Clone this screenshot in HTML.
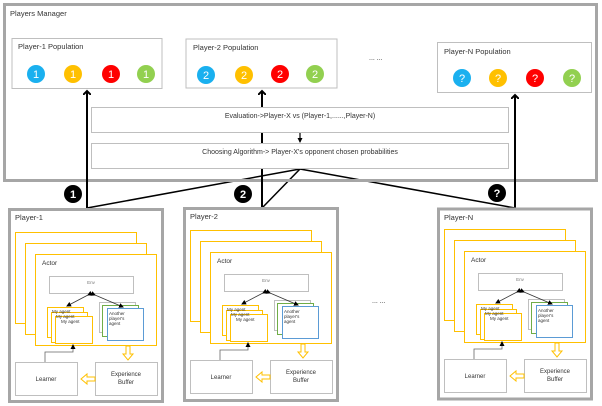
<!DOCTYPE html>
<html><head><meta charset="utf-8"><style>
html,body{margin:0;padding:0;background:#fff;width:602px;height:406px;overflow:hidden}
svg{display:block;font-family:"Liberation Sans","DejaVu Sans",sans-serif}
</style></head><body>
<svg width="602" height="406" viewBox="0 0 602 406" xmlns="http://www.w3.org/2000/svg">
<defs>
<marker id="ah" markerWidth="8" markerHeight="8" refX="4" refY="4" orient="auto" markerUnits="userSpaceOnUse">
<path d="M0,0 L4,4 L0,8" fill="none" stroke="#000" stroke-width="2"/></marker>
<marker id="sa" markerWidth="5" markerHeight="5" refX="4" refY="2.5" orient="auto" markerUnits="userSpaceOnUse">
<path d="M0,0 L5,2.5 L0,5z" fill="#000"/></marker>
</defs>
<rect x="4.5" y="4.5" width="592" height="176" fill="#fff"/>
<g stroke="#000" stroke-width="1.5" fill="none">
<line x1="300" y1="169" x2="87" y2="208"/>
<line x1="300" y1="169" x2="262" y2="208"/>
<line x1="300" y1="169" x2="515" y2="208"/>
</g>
<rect x="4.5" y="4.5" width="592" height="176" fill="none" stroke="#a6a6a6" stroke-width="3"/>
<text x="10" y="16" font-size="7.5" fill="#333">Players Manager</text>
<g font-size="7.5" fill="#333">
<rect x="12" y="38.5" width="150" height="50" fill="#fff" stroke="#bfbfbf"/>
<text x="18" y="49">Player-1 Population</text>
<rect x="186" y="39" width="151" height="49" fill="#fff" stroke="#bfbfbf"/>
<text x="193" y="50">Player-2 Population</text>
<rect x="437.5" y="42.5" width="154" height="50" fill="#fff" stroke="#bfbfbf"/>
<text x="444" y="54">Player-N Population</text>
<text x="369" y="60" font-size="7">... ...</text>
</g>
<g font-size="11" fill="#fff" text-anchor="middle">
<circle cx="36" cy="74" r="9" fill="#1ab0ef"/><text x="36" y="78">1</text>
<circle cx="73" cy="74" r="9" fill="#ffc000"/><text x="73" y="78">1</text>
<circle cx="111" cy="74" r="9" fill="#ff0000"/><text x="111" y="78">1</text>
<circle cx="146" cy="74" r="9" fill="#92d050"/><text x="146" y="78">1</text>
<circle cx="206" cy="75" r="9" fill="#1ab0ef"/><text x="206" y="79">2</text>
<circle cx="244" cy="75" r="9" fill="#ffc000"/><text x="244" y="79">2</text>
<circle cx="280" cy="74" r="9" fill="#ff0000"/><text x="280" y="78">2</text>
<circle cx="315" cy="74" r="9" fill="#92d050"/><text x="315" y="78">2</text>
<circle cx="462" cy="78" r="9" fill="#1ab0ef"/><text x="462" y="82">?</text>
<circle cx="498" cy="78" r="9" fill="#ffc000"/><text x="498" y="82">?</text>
<circle cx="535" cy="78" r="9" fill="#ff0000"/><text x="535" y="82">?</text>
<circle cx="572" cy="78" r="9" fill="#92d050"/><text x="572" y="82">?</text>
</g>
<g stroke="#000" stroke-width="2" fill="none">
<line x1="87" y1="208" x2="87" y2="91" marker-end="url(#ah)"/>
<line x1="262" y1="208" x2="262" y2="91" marker-end="url(#ah)"/>
<line x1="515" y1="208" x2="515" y2="95" marker-end="url(#ah)"/>
</g>
<rect x="91.5" y="107.5" width="417" height="25" fill="#fff" stroke="#bfbfbf"/>
<rect x="91.5" y="143.5" width="417" height="25" fill="#fff" stroke="#bfbfbf"/>
<g font-size="7" fill="#333" text-anchor="middle">
<text x="300" y="118">Evaluation-&gt;Player-X vs (Player-1,......,Player-N)</text>
<text x="300" y="154">Choosing Algorithm-&gt; Player-X's opponent chosen probabilities</text>
</g>
<line x1="300" y1="133" x2="300" y2="142" stroke="#000" stroke-width="1.2" marker-end="url(#sa)"/>
<g font-size="11" font-weight="bold" fill="#fff" text-anchor="middle">
<circle cx="73" cy="194" r="9" fill="#000"/><text x="73" y="198">1</text>
<circle cx="243" cy="194" r="9" fill="#000"/><text x="243" y="198">2</text>
<circle cx="497" cy="193" r="9" fill="#000"/><text x="497" y="197">?</text>
</g>
<text x="372" y="303" font-size="7" fill="#333">... ...</text>

<g>
<rect x="9.5" y="209.5" width="153" height="192" fill="none" stroke="#a6a6a6" stroke-width="3"/>
<rect x="15.5" y="232.5" width="121" height="91" fill="#fff" stroke="#ffc000"/>
<rect x="25.5" y="243.5" width="121" height="91" fill="#fff" stroke="#ffc000"/>
<rect x="35.5" y="254.5" width="121" height="91" fill="#fff" stroke="#ffc000"/>
<rect x="49.5" y="276.5" width="84" height="17" fill="#fff" stroke="#bfbfbf"/>
<rect x="47.5" y="307.5" width="36" height="30" fill="#fff" stroke="#ffc000"/>
<rect x="51.5" y="312.5" width="36" height="30" fill="#fff" stroke="#ffc000"/>
<rect x="55.5" y="316.5" width="37" height="27" fill="#fff" stroke="#ffc000"/>
<rect x="99.5" y="302.5" width="36" height="30" fill="#fff" stroke="#bfbfbf"/>
<rect x="102.5" y="305.5" width="36" height="31" fill="#fff" stroke="#70ad47"/>
<rect x="107.5" y="308.5" width="36" height="32" fill="#fff" stroke="#5b9bd5"/>
<line x1="88" y1="295" x2="67" y2="306" stroke="#333" stroke-width="0.8" marker-end="url(#sa)" marker-start="url(#sa)"/>
<line x1="95" y1="295" x2="123" y2="307" stroke="#333" stroke-width="0.8" marker-end="url(#sa)" marker-start="url(#sa)"/>
<rect x="15.5" y="362.5" width="62" height="33" fill="#fff" stroke="#bfbfbf"/>
<rect x="95.5" y="362.5" width="62" height="33" fill="#fff" stroke="#bfbfbf"/>
<polyline points="45,362 45,352 73,352 73,345" fill="none" stroke="#666" stroke-width="0.8" marker-end="url(#sa)"/>
<path d="M126,346 h4 v8 h3 l-5,6 l-5,-6 h3z" fill="#fff" stroke="#ffc000"/>
<path d="M95,377 h-8 v-3 l-6,5 l6,5 v-3 h8z" fill="#fff" stroke="#ffc000"/>
<g fill="#333">
<text x="15" y="220" font-size="7.5">Player-1</text>
<text x="42" y="265" font-size="6.5">Actor</text>
<text x="91" y="284" font-size="4.5" text-anchor="middle" fill="#777">Env</text>
<text x="52" y="313" font-size="4.5">My agent</text>
<text x="56" y="318" font-size="4.5">My agent</text>
<text x="61" y="323" font-size="4.5">My agent</text>
<text x="109" y="315" font-size="4.5">Another</text>
<text x="109" y="320" font-size="4.5">player's</text>
<text x="109" y="325" font-size="4.5">agent</text>
<text x="46" y="381" font-size="6" text-anchor="middle">Learner</text>
<text x="126" y="376" font-size="6" text-anchor="middle">Experience</text>
<text x="126" y="384" font-size="6" text-anchor="middle">Buffer</text>
</g>
</g>
<g transform="translate(175,-2)">
<rect x="9.5" y="210.5" width="153" height="192" fill="none" stroke="#a6a6a6" stroke-width="3"/>
<rect x="15.5" y="232.5" width="121" height="91" fill="#fff" stroke="#ffc000"/>
<rect x="25.5" y="243.5" width="121" height="91" fill="#fff" stroke="#ffc000"/>
<rect x="35.5" y="254.5" width="121" height="91" fill="#fff" stroke="#ffc000"/>
<rect x="49.5" y="276.5" width="84" height="17" fill="#fff" stroke="#bfbfbf"/>
<rect x="47.5" y="307.5" width="36" height="30" fill="#fff" stroke="#ffc000"/>
<rect x="51.5" y="312.5" width="36" height="30" fill="#fff" stroke="#ffc000"/>
<rect x="55.5" y="316.5" width="37" height="27" fill="#fff" stroke="#ffc000"/>
<rect x="99.5" y="302.5" width="36" height="30" fill="#fff" stroke="#bfbfbf"/>
<rect x="102.5" y="305.5" width="36" height="31" fill="#fff" stroke="#70ad47"/>
<rect x="107.5" y="308.5" width="36" height="32" fill="#fff" stroke="#5b9bd5"/>
<line x1="88" y1="295" x2="67" y2="306" stroke="#333" stroke-width="0.8" marker-end="url(#sa)" marker-start="url(#sa)"/>
<line x1="95" y1="295" x2="123" y2="307" stroke="#333" stroke-width="0.8" marker-end="url(#sa)" marker-start="url(#sa)"/>
<rect x="15.5" y="362.5" width="62" height="33" fill="#fff" stroke="#bfbfbf"/>
<rect x="95.5" y="362.5" width="62" height="33" fill="#fff" stroke="#bfbfbf"/>
<polyline points="45,362 45,352 73,352 73,345" fill="none" stroke="#666" stroke-width="0.8" marker-end="url(#sa)"/>
<path d="M126,346 h4 v8 h3 l-5,6 l-5,-6 h3z" fill="#fff" stroke="#ffc000"/>
<path d="M95,377 h-8 v-3 l-6,5 l6,5 v-3 h8z" fill="#fff" stroke="#ffc000"/>
<g fill="#333">
<text x="15" y="221" font-size="7.5">Player-2</text>
<text x="42" y="265" font-size="6.5">Actor</text>
<text x="91" y="284" font-size="4.5" text-anchor="middle" fill="#777">Env</text>
<text x="52" y="313" font-size="4.5">My agent</text>
<text x="56" y="318" font-size="4.5">My agent</text>
<text x="61" y="323" font-size="4.5">My agent</text>
<text x="109" y="315" font-size="4.5">Another</text>
<text x="109" y="320" font-size="4.5">player's</text>
<text x="109" y="325" font-size="4.5">agent</text>
<text x="46" y="381" font-size="6" text-anchor="middle">Learner</text>
<text x="126" y="376" font-size="6" text-anchor="middle">Experience</text>
<text x="126" y="384" font-size="6" text-anchor="middle">Buffer</text>
</g>
</g>
<g transform="translate(429,-3)">
<rect x="9.5" y="212" width="153" height="190" fill="none" stroke="#a6a6a6" stroke-width="3"/>
<rect x="15.5" y="232.5" width="121" height="91" fill="#fff" stroke="#ffc000"/>
<rect x="25.5" y="243.5" width="121" height="91" fill="#fff" stroke="#ffc000"/>
<rect x="35.5" y="254.5" width="121" height="91" fill="#fff" stroke="#ffc000"/>
<rect x="49.5" y="276.5" width="84" height="17" fill="#fff" stroke="#bfbfbf"/>
<rect x="47.5" y="307.5" width="36" height="30" fill="#fff" stroke="#ffc000"/>
<rect x="51.5" y="312.5" width="36" height="30" fill="#fff" stroke="#ffc000"/>
<rect x="55.5" y="316.5" width="37" height="27" fill="#fff" stroke="#ffc000"/>
<rect x="99.5" y="302.5" width="36" height="30" fill="#fff" stroke="#bfbfbf"/>
<rect x="102.5" y="305.5" width="36" height="31" fill="#fff" stroke="#70ad47"/>
<rect x="107.5" y="308.5" width="36" height="32" fill="#fff" stroke="#5b9bd5"/>
<line x1="88" y1="295" x2="67" y2="306" stroke="#333" stroke-width="0.8" marker-end="url(#sa)" marker-start="url(#sa)"/>
<line x1="95" y1="295" x2="123" y2="307" stroke="#333" stroke-width="0.8" marker-end="url(#sa)" marker-start="url(#sa)"/>
<rect x="15.5" y="362.5" width="62" height="33" fill="#fff" stroke="#bfbfbf"/>
<rect x="95.5" y="362.5" width="62" height="33" fill="#fff" stroke="#bfbfbf"/>
<polyline points="45,362 45,352 73,352 73,345" fill="none" stroke="#666" stroke-width="0.8" marker-end="url(#sa)"/>
<path d="M126,346 h4 v8 h3 l-5,6 l-5,-6 h3z" fill="#fff" stroke="#ffc000"/>
<path d="M95,377 h-8 v-3 l-6,5 l6,5 v-3 h8z" fill="#fff" stroke="#ffc000"/>
<g fill="#333">
<text x="15" y="223" font-size="7.5">Player-N</text>
<text x="42" y="265" font-size="6.5">Actor</text>
<text x="91" y="284" font-size="4.5" text-anchor="middle" fill="#777">Env</text>
<text x="52" y="313" font-size="4.5">My agent</text>
<text x="56" y="318" font-size="4.5">My agent</text>
<text x="61" y="323" font-size="4.5">My agent</text>
<text x="109" y="315" font-size="4.5">Another</text>
<text x="109" y="320" font-size="4.5">player's</text>
<text x="109" y="325" font-size="4.5">agent</text>
<text x="46" y="381" font-size="6" text-anchor="middle">Learner</text>
<text x="126" y="376" font-size="6" text-anchor="middle">Experience</text>
<text x="126" y="384" font-size="6" text-anchor="middle">Buffer</text>
</g>
</g>
</svg>
</body></html>
